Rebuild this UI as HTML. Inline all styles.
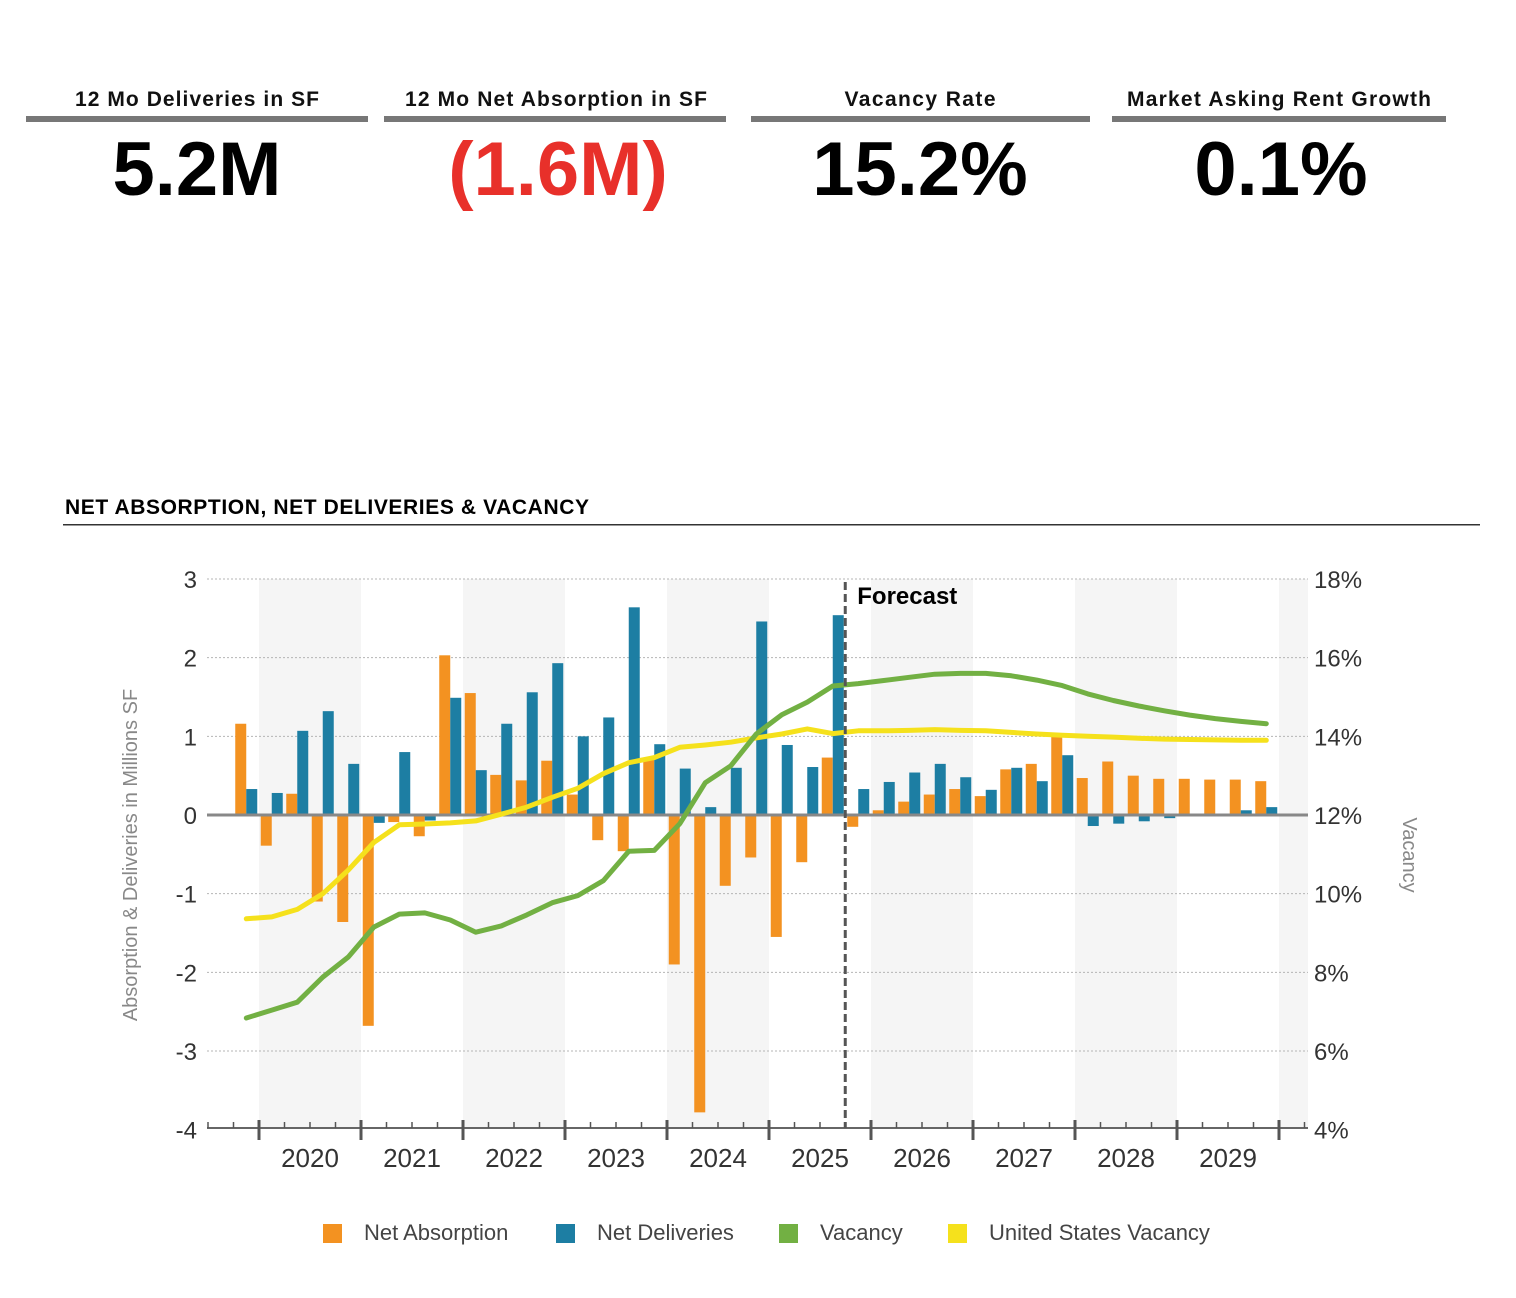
<!DOCTYPE html>
<html><head><meta charset="utf-8"><style>
html,body{margin:0;padding:0;background:#fff;}
svg{display:block;font-family:"Liberation Sans",Arial,sans-serif;}
</style></head><body>
<svg id="root" width="1516" height="1298" viewBox="0 0 1516 1298">
<g>
 <g>
  <text x="197" y="106" text-anchor="middle" font-size="21" font-weight="bold" fill="#111" textLength="244">12 Mo Deliveries in SF</text>
  <rect x="26" y="116" width="342" height="6" fill="#777"/>
  <text x="197" y="195" text-anchor="middle" font-size="76" font-weight="bold" fill="#000">5.2M</text>
 </g>
 <g>
  <text x="556" y="106" text-anchor="middle" font-size="21" font-weight="bold" fill="#111" textLength="302">12 Mo Net Absorption in SF</text>
  <rect x="384" y="116" width="342" height="6" fill="#777"/>
  <text x="558" y="195" text-anchor="middle" font-size="76" font-weight="bold" fill="#e8302a">(1.6M)</text>
 </g>
 <g>
  <text x="920" y="106" text-anchor="middle" font-size="21" font-weight="bold" fill="#111" textLength="151">Vacancy Rate</text>
  <rect x="751" y="116" width="339" height="6" fill="#777"/>
  <text x="920" y="195" text-anchor="middle" font-size="76" font-weight="bold" fill="#000">15.2%</text>
 </g>
 <g>
  <text x="1279" y="106" text-anchor="middle" font-size="21" font-weight="bold" fill="#111" textLength="304">Market Asking Rent Growth</text>
  <rect x="1112" y="116" width="334" height="6" fill="#777"/>
  <text x="1281" y="195" text-anchor="middle" font-size="76" font-weight="bold" fill="#000">0.1%</text>
 </g>
</g>
<text x="65" y="514" font-size="21" font-weight="bold" fill="#000" textLength="524">NET ABSORPTION, NET DELIVERIES &amp; VACANCY</text>
<rect x="63" y="524" width="1417" height="1.5" fill="#333"/>
<g id="chart"></g>
</svg>
<script>
const years = ["2020","2021","2022","2023","2024","2025","2026","2027","2028","2029"];
const leftTicks = [3,2,1,0,-1,-2,-3,-4];
const rightTicks = ["18%","16%","14%","12%","10%","8%","6%","4%"];
const rightTickValues = [18,16,14,12,10,8,6,4];
// quarters 2019Q4 .. 2029Q4
const netAbsorption = [1.16,-0.39,0.27,-1.1,-1.36,-2.68,-0.09,-0.27,2.03,1.55,0.51,0.44,0.69,0.26,-0.32,-0.46,0.72,-1.9,-3.78,-0.9,-0.54,-1.55,-0.6,0.73,-0.15,0.06,0.17,0.26,0.33,0.24,0.58,0.65,1.02,0.47,0.68,0.5,0.46,0.46,0.45,0.45,0.43];
const netDeliveries = [0.33,0.28,1.07,1.32,0.65,-0.1,0.8,-0.07,1.49,0.57,1.16,1.56,1.93,1.0,1.24,2.64,0.9,0.59,0.1,0.6,2.46,0.89,0.61,2.54,0.33,0.42,0.54,0.65,0.48,0.32,0.6,0.43,0.76,-0.14,-0.11,-0.08,-0.04,0.0,0.0,0.06,0.1];
const vacancy = [6.84,7.04,7.24,7.88,8.39,9.15,9.48,9.51,9.33,9.02,9.18,9.46,9.77,9.95,10.33,11.08,11.1,11.78,12.82,13.25,14.06,14.55,14.87,15.28,15.34,15.42,15.5,15.58,15.6,15.6,15.54,15.43,15.29,15.08,14.91,14.77,14.65,14.54,14.45,14.38,14.32];
const usVacancy = [9.36,9.41,9.6,10.0,10.6,11.3,11.75,11.77,11.8,11.85,12.02,12.2,12.45,12.68,13.05,13.33,13.46,13.72,13.78,13.85,13.96,14.06,14.19,14.07,14.14,14.14,14.15,14.17,14.15,14.14,14.1,14.06,14.03,14.0,13.98,13.95,13.93,13.92,13.91,13.9,13.9];
const forecastStartIndex = 24;

const NS="http://www.w3.org/2000/svg";
const g=document.getElementById('chart');
const X0=207, X1=1308, YT=579, YB=1128;
const yearStartX=259, yearW=102, qW=yearW/4;
function xCenter(i){return yearStartX - qW*0.5 + i*qW;} // i=0 -> 2019Q4 center
function yL(v){return 815 - v*(815-YT)/3;}
function yR(p){return 815 - (p-12)*(815-YT)/6;}
function mk(tag,attrs){const e=document.createElementNS(NS,tag);for(const k in attrs)e.setAttribute(k,attrs[k]);g.appendChild(e);return e;}

for(let k=0;k<=10;k+=2){
  const x=yearStartX+k*yearW; const w=Math.min(yearW,X1-x);
  const e=mk('rect',{x:x,y:YT,width:w,height:YB-YT,fill:'#f5f5f5'});
  
  
}
leftTicks.forEach(v=>{
  if(v!==0 && v!==-4){const l=mk('line',{x1:X0,x2:X1,y1:yL(v),y2:yL(v),stroke:'#b5b5b5','stroke-width':1,'stroke-dasharray':'2 2'});
  
  }
  const t=mk('text',{x:197,y:yL(v)+9,'text-anchor':'end','font-size':24,fill:'#333'});t.textContent=v;
  
  
});
rightTicks.forEach((s,k)=>{
  const t=mk('text',{x:1314,y:yR(rightTickValues[k])+9,'font-size':24,fill:'#333'});t.textContent=s;
  
  
});
const bw=11;
netAbsorption.forEach((v,i)=>{
  const c=xCenter(i);const y0=yL(0),y1=yL(v);
  const r=mk('rect',{x:c-bw,y:Math.min(y0,y1),width:bw,height:Math.abs(y1-y0),fill:'#f39221'});
  
  
});
netDeliveries.forEach((v,i)=>{
  const c=xCenter(i);const y0=yL(0),y1=yL(v);
  const r=mk('rect',{x:c,y:Math.min(y0,y1),width:bw,height:Math.abs(y1-y0),fill:'#1d7ea3'});
  
  
});
const z=mk('line',{x1:X0,x2:X1,y1:815,y2:815,stroke:'#888','stroke-width':3});


function line(arr,color,name){
  const p=arr.map((v,i)=>xCenter(i).toFixed(1)+','+yR(v).toFixed(1)).join(' ');
  const e=mk('polyline',{points:p,fill:'none',stroke:color,'stroke-width':5,'stroke-linejoin':'round','stroke-linecap':'round'});
  
  
}
line(usVacancy,'#f5e11c','line-us-vacancy');
line(vacancy,'#72b043','line-vacancy');
const ax=mk('line',{x1:X0,x2:X1,y1:YB,y2:YB,stroke:'#666','stroke-width':2});


for(let i=0;i<=43;i++){
  const xx=yearStartX-2*qW+i*qW; if(xx>X1)break;
  const major=((i-2)%4===0);
  const t=mk('line',{x1:xx,x2:xx,y1:YB-(major?8:6),y2:YB+(major?12:0),stroke:'#555','stroke-width':major?3:1.5});
  
  
}
years.forEach((y,k)=>{
  const t=mk('text',{x:yearStartX+k*yearW+yearW/2,y:1167,'text-anchor':'middle','font-size':26,fill:'#333'});t.textContent=y;
  
  
});
const fx=xCenter(forecastStartIndex)-13;
const fl=mk('line',{x1:fx,x2:fx,y1:582,y2:YB,stroke:'#555','stroke-width':3,'stroke-dasharray':'8 4'});


const ft=mk('text',{x:fx+12,y:604,'font-size':24,'font-weight':'bold',fill:'#000'});ft.textContent='Forecast';


const lt=mk('text',{x:0,y:0,'font-size':20,fill:'#888','text-anchor':'middle',transform:'translate(137,855) rotate(-90)'});lt.textContent='Absorption & Deliveries in Millions SF';


const rt=mk('text',{x:0,y:0,'font-size':20,fill:'#888','text-anchor':'middle',transform:'translate(1403,855) rotate(90)'});rt.textContent='Vacancy';


const legendLabels=['Net Absorption','Net Deliveries','Vacancy','United States Vacancy'];
const legendColors=['#f39221','#1d7ea3','#72b043','#f5e11c'];
const legendX=[323,556,779,948];
legendLabels.forEach((s,k)=>{
  const r=mk('rect',{x:legendX[k],y:1224,width:19,height:19,fill:legendColors[k]});
  
  
  const t=mk('text',{x:legendX[k]+41,y:1240,'font-size':22,fill:'#444'});t.textContent=s;
  
  
});
</script>
</body></html>
